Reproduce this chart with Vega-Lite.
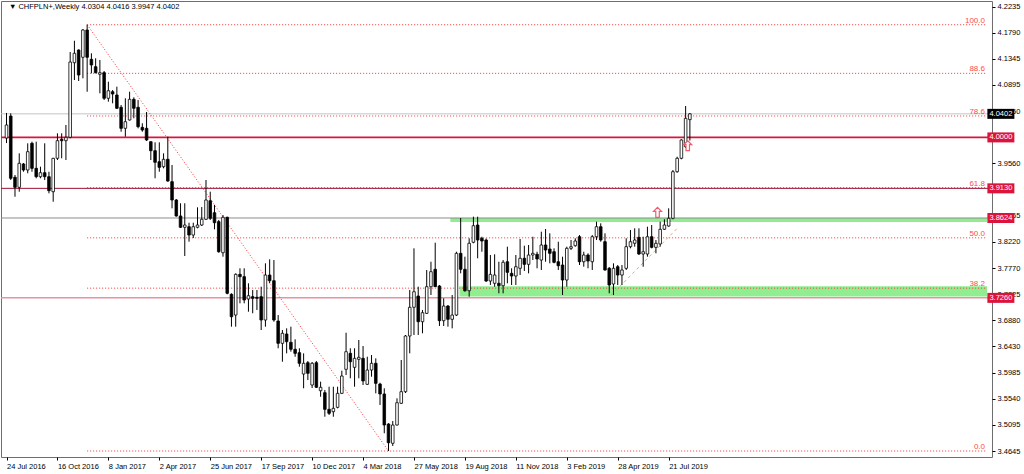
{
"$schema": "https://vega.github.io/schema/vega-lite/v6.json",
"width": 991, "height": 456,
"autosize": {"type": "none"},
"padding": {"left": 1, "top": 1, "right": 32, "bottom": 17},
"background": "white",
"config": {
 "view": {"stroke": "#6e6e6e", "strokeWidth": 1},
 "axis": {"title": null, "grid": false, "domain": false, "labelFont": "Liberation Sans", "labelFontSize": 7.5, "labelColor": "#000", "tickColor": "#000", "tickSize": 3}
},
"resolve": {"axis": {"x": "independent", "y": "independent"}},
"datasets": {
 "candles": [
{"date":"2016-07-24","open":3.9990,"high":4.0417,"low":3.9904,"close":4.0212},
{"date":"2016-07-31","open":4.0365,"high":4.0411,"low":3.9273,"close":3.9302},
{"date":"2016-08-07","open":3.9319,"high":3.9358,"low":3.8987,"close":3.9148},
{"date":"2016-08-14","open":3.9148,"high":3.9728,"low":3.9073,"close":3.9558},
{"date":"2016-08-21","open":3.9546,"high":3.9563,"low":3.9414,"close":3.9443},
{"date":"2016-08-28","open":3.9443,"high":3.9899,"low":3.9387,"close":3.9756},
{"date":"2016-09-04","open":3.9899,"high":3.9927,"low":3.9414,"close":3.9472},
{"date":"2016-09-11","open":3.9472,"high":3.9927,"low":3.9302,"close":3.9329},
{"date":"2016-09-18","open":3.9329,"high":3.9500,"low":3.9302,"close":3.9397},
{"date":"2016-09-25","open":3.9397,"high":3.9899,"low":3.9273,"close":3.9329},
{"date":"2016-10-02","open":3.9329,"high":3.9414,"low":3.9045,"close":3.9090},
{"date":"2016-10-09","open":3.9073,"high":3.9650,"low":3.8902,"close":3.9643},
{"date":"2016-10-16","open":3.9643,"high":4.0070,"low":3.9614,"close":3.9944},
{"date":"2016-10-23","open":3.9968,"high":4.0070,"low":3.9643,"close":3.9944},
{"date":"2016-10-30","open":3.9944,"high":4.0212,"low":3.9614,"close":4.0002},
{"date":"2016-11-06","open":4.0002,"high":4.1458,"low":3.9984,"close":4.1287},
{"date":"2016-11-13","open":4.1275,"high":4.1651,"low":4.0980,"close":4.1436},
{"date":"2016-11-20","open":4.1492,"high":4.1504,"low":4.0963,"close":4.1065},
{"date":"2016-11-27","open":4.1368,"high":4.1850,"low":4.1009,"close":4.1834},
{"date":"2016-12-04","open":4.1834,"high":4.1924,"low":4.0780,"close":4.1368},
{"date":"2016-12-11","open":4.1333,"high":4.1436,"low":4.1094,"close":4.1236},
{"date":"2016-12-18","open":4.1207,"high":4.1351,"low":4.1094,"close":4.1105},
{"date":"2016-12-25","open":4.1077,"high":4.1322,"low":4.0753,"close":4.1105},
{"date":"2017-01-01","open":4.1105,"high":4.1134,"low":4.0639,"close":4.0668},
{"date":"2017-01-08","open":4.0668,"high":4.0951,"low":4.0610,"close":4.0797},
{"date":"2017-01-15","open":4.0780,"high":4.0809,"low":4.0582,"close":4.0741},
{"date":"2017-01-22","open":4.0724,"high":4.0866,"low":4.0485,"close":4.0497},
{"date":"2017-01-29","open":4.0514,"high":4.0553,"low":4.0097,"close":4.0155},
{"date":"2017-02-05","open":4.0155,"high":4.0668,"low":4.0012,"close":4.0268},
{"date":"2017-02-12","open":4.0297,"high":4.0780,"low":4.0288,"close":4.0650},
{"date":"2017-02-19","open":4.0650,"high":4.0685,"low":4.0326,"close":4.0497},
{"date":"2017-02-26","open":4.0514,"high":4.0638,"low":4.0155,"close":4.0183},
{"date":"2017-03-05","open":4.0172,"high":4.0241,"low":4.0097,"close":4.0126},
{"date":"2017-03-12","open":4.0155,"high":4.0434,"low":3.9939,"close":3.9956},
{"date":"2017-03-19","open":3.9927,"high":3.9930,"low":3.9614,"close":3.9773},
{"date":"2017-03-26","open":3.9773,"high":3.9916,"low":3.9302,"close":3.9575},
{"date":"2017-04-02","open":3.9585,"high":3.9916,"low":3.9414,"close":3.9489},
{"date":"2017-04-09","open":3.9500,"high":3.9728,"low":3.9472,"close":3.9626},
{"date":"2017-04-16","open":3.9626,"high":4.0012,"low":3.9244,"close":3.9255},
{"date":"2017-04-23","open":3.9244,"high":3.9529,"low":3.8789,"close":3.8931},
{"date":"2017-04-30","open":3.8931,"high":3.8948,"low":3.8646,"close":3.8658},
{"date":"2017-05-07","open":3.8658,"high":3.8875,"low":3.8453,"close":3.8465},
{"date":"2017-05-14","open":3.8465,"high":3.8875,"low":3.7975,"close":3.8504},
{"date":"2017-05-21","open":3.8475,"high":3.8543,"low":3.8219,"close":3.8333},
{"date":"2017-05-28","open":3.8333,"high":3.8543,"low":3.8282,"close":3.8475},
{"date":"2017-06-04","open":3.8465,"high":3.8806,"low":3.8448,"close":3.8504},
{"date":"2017-06-11","open":3.8504,"high":3.8811,"low":3.8487,"close":3.8602},
{"date":"2017-06-18","open":3.8602,"high":3.9273,"low":3.8590,"close":3.8931},
{"date":"2017-06-25","open":3.8919,"high":3.9073,"low":3.8590,"close":3.8619},
{"date":"2017-07-02","open":3.8714,"high":3.8846,"low":3.8431,"close":3.8543},
{"date":"2017-07-09","open":3.8561,"high":3.8590,"low":3.8031,"close":3.8048},
{"date":"2017-07-16","open":3.8031,"high":3.8675,"low":3.7963,"close":3.8636},
{"date":"2017-07-23","open":3.8636,"high":3.8646,"low":3.7321,"close":3.7338},
{"date":"2017-07-30","open":3.7321,"high":3.7338,"low":3.6768,"close":3.6938},
{"date":"2017-08-06","open":3.6967,"high":3.7679,"low":3.6768,"close":3.7662},
{"date":"2017-08-13","open":3.7662,"high":3.7765,"low":3.7167,"close":3.7622},
{"date":"2017-08-20","open":3.7622,"high":3.7765,"low":3.7167,"close":3.7224},
{"date":"2017-08-27","open":3.7241,"high":3.7509,"low":3.7024,"close":3.7297},
{"date":"2017-09-03","open":3.7280,"high":3.7394,"low":3.6997,"close":3.7253},
{"date":"2017-09-10","open":3.7270,"high":3.7394,"low":3.7053,"close":3.7253},
{"date":"2017-09-17","open":3.7280,"high":3.7451,"low":3.6711,"close":3.6882},
{"date":"2017-09-24","open":3.6882,"high":3.7850,"low":3.6768,"close":3.7650},
{"date":"2017-10-01","open":3.7650,"high":3.7918,"low":3.7509,"close":3.7553},
{"date":"2017-10-08","open":3.7553,"high":3.7906,"low":3.6853,"close":3.6882},
{"date":"2017-10-15","open":3.6865,"high":3.6967,"low":3.6399,"close":3.6484},
{"date":"2017-10-22","open":3.6484,"high":3.6711,"low":3.6170,"close":3.6655},
{"date":"2017-10-29","open":3.6643,"high":3.6740,"low":3.6313,"close":3.6512},
{"date":"2017-11-05","open":3.6501,"high":3.6768,"low":3.6341,"close":3.6382},
{"date":"2017-11-12","open":3.6382,"high":3.6552,"low":3.6255,"close":3.6313},
{"date":"2017-11-19","open":3.6324,"high":3.6399,"low":3.6085,"close":3.6143},
{"date":"2017-11-26","open":3.5960,"high":3.6313,"low":3.5716,"close":3.6143},
{"date":"2017-12-03","open":3.6153,"high":3.6182,"low":3.5857,"close":3.5972},
{"date":"2017-12-10","open":3.5772,"high":3.6165,"low":3.5721,"close":3.6143},
{"date":"2017-12-17","open":3.6153,"high":3.6182,"low":3.5721,"close":3.5733},
{"date":"2017-12-24","open":3.5675,"high":3.5829,"low":3.5572,"close":3.5733},
{"date":"2017-12-31","open":3.5641,"high":3.5687,"low":3.5231,"close":3.5357},
{"date":"2018-01-07","open":3.5357,"high":3.5743,"low":3.5260,"close":3.5289},
{"date":"2018-01-14","open":3.5316,"high":3.5743,"low":3.5231,"close":3.5374},
{"date":"2018-01-21","open":3.5391,"high":3.5743,"low":3.5374,"close":3.5630},
{"date":"2018-01-28","open":3.5630,"high":3.6016,"low":3.5618,"close":3.5926},
{"date":"2018-02-04","open":3.6040,"high":3.6665,"low":3.5943,"close":3.6341},
{"date":"2018-02-11","open":3.6313,"high":3.6399,"low":3.5887,"close":3.6170},
{"date":"2018-02-18","open":3.6074,"high":3.6399,"low":3.5743,"close":3.6228},
{"date":"2018-02-25","open":3.6211,"high":3.6541,"low":3.5887,"close":3.6245},
{"date":"2018-03-04","open":3.6228,"high":3.6438,"low":3.5772,"close":3.5841},
{"date":"2018-03-11","open":3.5784,"high":3.6255,"low":3.5772,"close":3.6028},
{"date":"2018-03-18","open":3.6028,"high":3.6284,"low":3.5914,"close":3.6143},
{"date":"2018-03-25","open":3.6143,"high":3.6228,"low":3.5630,"close":3.5801},
{"date":"2018-04-01","open":3.5789,"high":3.5811,"low":3.5431,"close":3.5619},
{"date":"2018-04-08","open":3.5619,"high":3.5716,"low":3.4948,"close":3.5089},
{"date":"2018-04-15","open":3.5106,"high":3.5120,"low":3.4645,"close":3.4787},
{"date":"2018-04-22","open":3.4777,"high":3.5157,"low":3.4731,"close":3.5089},
{"date":"2018-04-29","open":3.5089,"high":3.5545,"low":3.5081,"close":3.5470},
{"date":"2018-05-06","open":3.5460,"high":3.6199,"low":3.5448,"close":3.5658},
{"date":"2018-05-13","open":3.5658,"high":3.6626,"low":3.5636,"close":3.6609},
{"date":"2018-05-20","open":3.6609,"high":3.7394,"low":3.6313,"close":3.7099},
{"date":"2018-05-27","open":3.7099,"high":3.8106,"low":3.6626,"close":3.7365},
{"date":"2018-06-03","open":3.7292,"high":3.7451,"low":3.6626,"close":3.6853},
{"date":"2018-06-10","open":3.6853,"high":3.7053,"low":3.6655,"close":3.7007},
{"date":"2018-06-17","open":3.6996,"high":3.7736,"low":3.6985,"close":3.7451},
{"date":"2018-06-24","open":3.7451,"high":3.7877,"low":3.7309,"close":3.7707},
{"date":"2018-07-01","open":3.7748,"high":3.8202,"low":3.7446,"close":3.7451},
{"date":"2018-07-08","open":3.7463,"high":3.7480,"low":3.6780,"close":3.6870},
{"date":"2018-07-15","open":3.6870,"high":3.7253,"low":3.6780,"close":3.7121},
{"date":"2018-07-22","open":3.7121,"high":3.7138,"low":3.6768,"close":3.6894},
{"date":"2018-07-29","open":3.6894,"high":3.7309,"low":3.6740,"close":3.6967},
{"date":"2018-08-05","open":3.6967,"high":3.8048,"low":3.6950,"close":3.8021},
{"date":"2018-08-12","open":3.8021,"high":3.8624,"low":3.7679,"close":3.7748},
{"date":"2018-08-19","open":3.7748,"high":3.7963,"low":3.7365,"close":3.7382},
{"date":"2018-08-26","open":3.7382,"high":3.8277,"low":3.7280,"close":3.8192},
{"date":"2018-09-02","open":3.8209,"high":3.8646,"low":3.8192,"close":3.8492},
{"date":"2018-09-09","open":3.8504,"high":3.8646,"low":3.7936,"close":3.8248},
{"date":"2018-09-16","open":3.8277,"high":3.8304,"low":3.8048,"close":3.8231},
{"date":"2018-09-23","open":3.8248,"high":3.8274,"low":3.7531,"close":3.7548},
{"date":"2018-09-30","open":3.7548,"high":3.7992,"low":3.7480,"close":3.7662},
{"date":"2018-10-07","open":3.7509,"high":3.8004,"low":3.7451,"close":3.7650},
{"date":"2018-10-14","open":3.7509,"high":3.7877,"low":3.7338,"close":3.7468},
{"date":"2018-10-21","open":3.7468,"high":3.7906,"low":3.7338,"close":3.7867},
{"date":"2018-10-28","open":3.7877,"high":3.8134,"low":3.7509,"close":3.7696},
{"date":"2018-11-04","open":3.7679,"high":3.7765,"low":3.7480,"close":3.7633},
{"date":"2018-11-11","open":3.7633,"high":3.7992,"low":3.7480,"close":3.7792},
{"date":"2018-11-18","open":3.7765,"high":3.8265,"low":3.7650,"close":3.7936},
{"date":"2018-11-25","open":3.7936,"high":3.8151,"low":3.7719,"close":3.7833},
{"date":"2018-12-02","open":3.7833,"high":3.8163,"low":3.7679,"close":3.7992},
{"date":"2018-12-09","open":3.7992,"high":3.8304,"low":3.7906,"close":3.8021},
{"date":"2018-12-16","open":3.8004,"high":3.8048,"low":3.7765,"close":3.7924},
{"date":"2018-12-23","open":3.7906,"high":3.8390,"low":3.7736,"close":3.8163},
{"date":"2018-12-30","open":3.8163,"high":3.8436,"low":3.7877,"close":3.8077},
{"date":"2019-01-06","open":3.8094,"high":3.8362,"low":3.7850,"close":3.8021},
{"date":"2019-01-13","open":3.8048,"high":3.8106,"low":3.7850,"close":3.7867},
{"date":"2019-01-20","open":3.7877,"high":3.8219,"low":3.7736,"close":3.7809},
{"date":"2019-01-27","open":3.7821,"high":3.7963,"low":3.7309,"close":3.7565},
{"date":"2019-02-03","open":3.7565,"high":3.8134,"low":3.7451,"close":3.8106},
{"date":"2019-02-10","open":3.8106,"high":3.8248,"low":3.8077,"close":3.8134},
{"date":"2019-02-17","open":3.8151,"high":3.8277,"low":3.8134,"close":3.8231},
{"date":"2019-02-24","open":3.8304,"high":3.8333,"low":3.7821,"close":3.7877},
{"date":"2019-03-03","open":3.7877,"high":3.8048,"low":3.7792,"close":3.7992},
{"date":"2019-03-10","open":3.7992,"high":3.8021,"low":3.7765,"close":3.7889},
{"date":"2019-03-17","open":3.7877,"high":3.8333,"low":3.7736,"close":3.8304},
{"date":"2019-03-24","open":3.8304,"high":3.8561,"low":3.8248,"close":3.8475},
{"date":"2019-03-31","open":3.8475,"high":3.8533,"low":3.8219,"close":3.8248},
{"date":"2019-04-07","open":3.8219,"high":3.8362,"low":3.7724,"close":3.7736},
{"date":"2019-04-14","open":3.7765,"high":3.7787,"low":3.7338,"close":3.7480},
{"date":"2019-04-21","open":3.7497,"high":3.7850,"low":3.7309,"close":3.7765},
{"date":"2019-04-28","open":3.7792,"high":3.7821,"low":3.7480,"close":3.7650},
{"date":"2019-05-05","open":3.7650,"high":3.7821,"low":3.7480,"close":3.7736},
{"date":"2019-05-12","open":3.7765,"high":3.8277,"low":3.7736,"close":3.8134},
{"date":"2019-05-19","open":3.8134,"high":3.8419,"low":3.8106,"close":3.8219},
{"date":"2019-05-26","open":3.8192,"high":3.8448,"low":3.8134,"close":3.8248},
{"date":"2019-06-02","open":3.8294,"high":3.8448,"low":3.7992,"close":3.8009},
{"date":"2019-06-09","open":3.8009,"high":3.8304,"low":3.7792,"close":3.8048},
{"date":"2019-06-16","open":3.8009,"high":3.8475,"low":3.7963,"close":3.8304},
{"date":"2019-06-23","open":3.8304,"high":3.8504,"low":3.8106,"close":3.8123},
{"date":"2019-06-30","open":3.8123,"high":3.8248,"low":3.8021,"close":3.8192},
{"date":"2019-07-07","open":3.8180,"high":3.8561,"low":3.8134,"close":3.8431},
{"date":"2019-07-14","open":3.8431,"high":3.8602,"low":3.8419,"close":3.8504},
{"date":"2019-07-21","open":3.8487,"high":3.8789,"low":3.8475,"close":3.8619},
{"date":"2019-07-28","open":3.8619,"high":3.9443,"low":3.8602,"close":3.9414},
{"date":"2019-08-04","open":3.9414,"high":3.9670,"low":3.9397,"close":3.9643},
{"date":"2019-08-11","open":3.9643,"high":3.9968,"low":3.9626,"close":3.9956},
{"date":"2019-08-18","open":3.9841,"high":4.0536,"low":3.9819,"close":4.0326},
{"date":"2019-08-25","open":4.0304,"high":4.0416,"low":3.9947,"close":4.0402}
 ],
 "levels": [
  {"name": "bid", "price": 4.0402},
  {"name": "round", "price": 4.0000},
  {"name": "r1", "price": 3.9130},
  {"name": "r2", "price": 3.8624},
  {"name": "s1", "price": 3.7260}
 ],
 "fib": [
  {"label": "100.0", "price": 4.1924},
  {"label": "88.6", "price": 4.1094},
  {"label": "78.6", "price": 4.0366},
  {"label": "61.8", "price": 3.9143},
  {"label": "50.0", "price": 3.8285},
  {"label": "38.2", "price": 3.7426},
  {"label": "0.0", "price": 3.4645}
 ],
 "zones": [
  {"start": "2018-07-26", "top": 3.8624, "bottom": 3.8555},
  {"start": "2018-08-10", "top": 3.7460, "bottom": 3.7285}
 ],
 "diagonal": [
  {"date": "2016-12-04", "price": 4.1924, "date2": "2018-04-15", "price2": 3.4645}
 ],
 "trend": [
  {"date": "2019-04-17T12:00:00Z", "price": 3.7309, "date2": "2019-08-06T18:00:00Z", "price2": 3.8475}
 ],
 "arrows": [
  {"date": "2019-07-02T16:00:00Z", "price": 3.8721},
  {"date": "2019-08-21T11:00:00Z", "price": 3.9858}
 ],
 "boxes": [
  {"label": "4.0402", "price": 4.0402, "kind": "bid"},
  {"label": "4.0000", "price": 4.0000, "kind": "level"},
  {"label": "3.9130", "price": 3.9130, "kind": "level"},
  {"label": "3.8624", "price": 3.8624, "kind": "level"},
  {"label": "3.7260", "price": 3.7260, "kind": "level"}
 ],
 "header": [
  {"text": "▼ CHFPLN+,Weekly  4.0304 4.0416 3.9947 4.0402", "date": "2016-07-28", "price": 4.2226}
 ]
},
"layer": [
 {
  "data": {"name": "zones"},
  "mark": {"type": "rect", "color": "#90ee90"},
  "encoding": {
   "x": {"field": "start", "type": "temporal",
         "scale": {"type": "utc", "domain": [{"year": 2016, "month": 7, "date": 23, "hours": 4, "utc": true}, {"year": 2020, "month": 12, "date": 27, "utc": true}]},
         "axis": {"orient": "bottom", "labelExpr": "utcFormat(datum.value, '%-d %b %Y')", "labelAlign": "left", "labelPadding": 2, "labelOverlap": false, "labelFlush": false, "labelBound": false,
                  "values": [
                   {"year": 2016, "month": 7, "date": 24, "utc": true},
                   {"year": 2016, "month": 10, "date": 16, "utc": true},
                   {"year": 2017, "month": 1, "date": 8, "utc": true},
                   {"year": 2017, "month": 4, "date": 2, "utc": true},
                   {"year": 2017, "month": 6, "date": 25, "utc": true},
                   {"year": 2017, "month": 9, "date": 17, "utc": true},
                   {"year": 2017, "month": 12, "date": 10, "utc": true},
                   {"year": 2018, "month": 3, "date": 4, "utc": true},
                   {"year": 2018, "month": 5, "date": 27, "utc": true},
                   {"year": 2018, "month": 8, "date": 19, "utc": true},
                   {"year": 2018, "month": 11, "date": 11, "utc": true},
                   {"year": 2019, "month": 2, "date": 3, "utc": true},
                   {"year": 2019, "month": 4, "date": 28, "utc": true},
                   {"year": 2019, "month": 7, "date": 21, "utc": true}
                  ]}},
   "x2": {"datum": {"year": 2020, "month": 12, "date": 27, "utc": true}},
   "y": {"field": "top", "type": "quantitative",
         "scale": {"domain": [3.4543, 4.2329], "zero": false, "nice": false},
         "axis": {"orient": "right", "format": ".4f", "labelPadding": 2, "labelOverlap": false, "labelFlush": false, "labelBound": false,
                  "values": [4.2235, 4.1790, 4.1345, 4.0895, 4.0450, 3.9560, 3.8665, 3.8220, 3.7770, 3.7325, 3.6880, 3.6430, 3.5985, 3.5540, 3.5095, 3.4645]}},
   "y2": {"field": "bottom"}
  }
 },
 {
  "data": {"name": "levels"},
  "transform": [{"filter": "datum.name === 'bid'"}],
  "mark": {"type": "rule", "color": "#c4c4c4", "strokeWidth": 1},
  "encoding": {"y": {"field": "price", "type": "quantitative", "axis": null}}
 },
 {
  "data": {"name": "levels"},
  "transform": [{"filter": "datum.name === 'r2'"}],
  "mark": {"type": "rule", "color": "#8c8c8c", "strokeWidth": 1},
  "encoding": {"y": {"field": "price", "type": "quantitative", "axis": null}}
 },
 {
  "data": {"name": "levels"},
  "transform": [{"filter": "datum.name === 's1'"}],
  "mark": {"type": "rule", "color": "#ec8fa2", "strokeWidth": 1.5},
  "encoding": {"y": {"field": "price", "type": "quantitative", "axis": null}}
 },
 {
  "data": {"name": "levels"},
  "transform": [{"filter": "datum.name === 'r1'"}],
  "mark": {"type": "rule", "color": "#9a1030", "strokeWidth": 1},
  "encoding": {"y": {"field": "price", "type": "quantitative", "axis": null}}
 },
 {
  "data": {"name": "levels"},
  "transform": [{"filter": "datum.name === 'round'"}],
  "mark": {"type": "rule", "color": "#dc143c", "strokeWidth": 1.6},
  "encoding": {"y": {"field": "price", "type": "quantitative", "axis": null}}
 },
 {
  "data": {"name": "fib"},
  "mark": {"type": "rule", "color": "#ff3030", "strokeWidth": 1, "strokeDash": [1, 2]},
  "encoding": {
   "x": {"datum": {"year": 2016, "month": 12, "date": 4, "utc": true}, "type": "temporal", "axis": null},
   "x2": {"datum": {"year": 2020, "month": 12, "date": 27, "utc": true}},
   "y": {"field": "price", "type": "quantitative", "axis": null}
  }
 },
 {
  "data": {"name": "fib"},
  "mark": {"type": "text", "color": "#ff4a4a", "font": "Liberation Sans", "fontSize": 8, "align": "right", "baseline": "bottom", "dx": -2, "dy": 0},
  "encoding": {
   "x": {"datum": {"year": 2020, "month": 12, "date": 27, "utc": true}, "type": "temporal", "axis": null},
   "y": {"field": "price", "type": "quantitative", "axis": null},
   "text": {"field": "label"}
  }
 },
 {
  "data": {"name": "diagonal"},
  "mark": {"type": "rule", "color": "#ff3030", "strokeWidth": 1, "strokeDash": [1, 2]},
  "encoding": {
   "x": {"field": "date", "type": "temporal", "axis": null},
   "x2": {"field": "date2"},
   "y": {"field": "price", "type": "quantitative", "axis": null},
   "y2": {"field": "price2"}
  }
 },
 {
  "data": {"name": "trend"},
  "mark": {"type": "rule", "color": "#f4a460", "strokeWidth": 1, "strokeDash": [3, 3]},
  "encoding": {
   "x": {"field": "date", "type": "temporal", "axis": null},
   "x2": {"field": "date2"},
   "y": {"field": "price", "type": "quantitative", "axis": null},
   "y2": {"field": "price2"}
  }
 },
 {
  "data": {"name": "candles"},
  "mark": {"type": "rule", "color": "#000", "strokeWidth": 1},
  "encoding": {
   "x": {"field": "date", "type": "temporal", "axis": null},
   "y": {"field": "low", "type": "quantitative", "axis": null},
   "y2": {"field": "high"}
  }
 },
 {
  "data": {"name": "candles"},
  "mark": {"type": "bar", "width": 2.6, "stroke": "#000", "strokeWidth": 0.8},
  "encoding": {
   "x": {"field": "date", "type": "temporal", "axis": null},
   "y": {"field": "open", "type": "quantitative", "axis": null},
   "y2": {"field": "close"},
   "fill": {"condition": {"test": "datum.close >= datum.open", "value": "#ffffff"}, "value": "#000000"}
  }
 },
 {
  "data": {"name": "arrows"},
  "mark": {"type": "point", "shape": "M0,-1L0.8,-0.2L0.35,-0.2L0.35,1L-0.35,1L-0.35,-0.2L-0.8,-0.2Z", "size": 100, "filled": false, "fill": "#ffffff", "fillOpacity": 1, "stroke": "#f25a6e", "strokeWidth": 1.2, "opacity": 1},
  "encoding": {
   "x": {"field": "date", "type": "temporal", "axis": null},
   "y": {"field": "price", "type": "quantitative", "axis": null}
  }
 },
 {
  "data": {"name": "boxes"},
  "mark": {"type": "tick", "orient": "horizontal", "thickness": 10, "size": 27, "opacity": 1},
  "encoding": {
   "x": {"datum": {"year": 2021, "month": 1, "date": 18, "hours": 21, "utc": true}, "type": "temporal", "axis": null},
   "y": {"field": "price", "type": "quantitative", "axis": null},
   "color": {"condition": {"test": "datum.kind === 'bid'", "value": "#000000"}, "value": "#dc143c"}
  }
 },
 {
  "data": {"name": "boxes"},
  "mark": {"type": "text", "color": "#ffffff", "font": "Liberation Sans", "fontSize": 7.5, "align": "center", "baseline": "middle"},
  "encoding": {
   "x": {"datum": {"year": 2021, "month": 1, "date": 18, "hours": 21, "utc": true}, "type": "temporal", "axis": null},
   "y": {"field": "price", "type": "quantitative", "axis": null},
   "text": {"field": "label"}
  }
 },
 {
  "data": {"name": "header"},
  "mark": {"type": "text", "font": "Liberation Sans", "fontSize": 7.5, "color": "#000", "align": "left", "baseline": "middle"},
  "encoding": {
   "x": {"field": "date", "type": "temporal", "axis": null},
   "y": {"field": "price", "type": "quantitative", "axis": null},
   "text": {"field": "text"}
  }
 }
]
}
